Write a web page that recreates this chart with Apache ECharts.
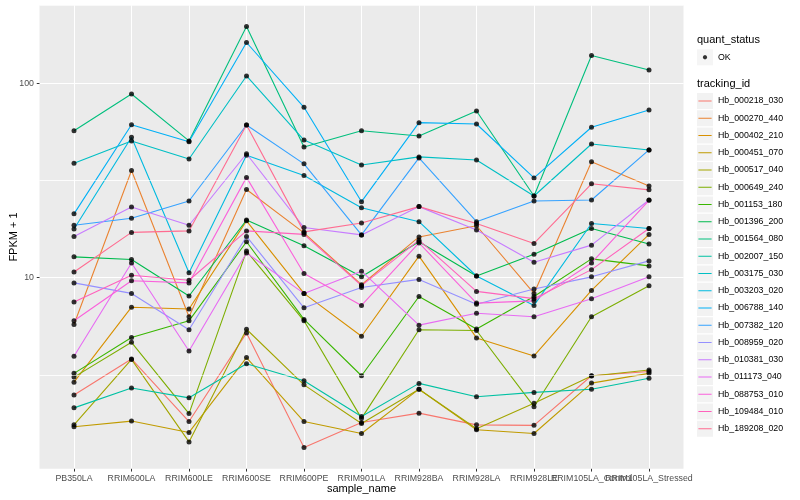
<!DOCTYPE html>
<html><head><meta charset="utf-8">
<script src="https://cdn.jsdelivr.net/npm/echarts@6/dist/echarts.min.js"></script>
<style>html,body{margin:0;padding:0;background:#fff}#c{width:800px;height:500px}</style>
</head><body><div id="c"></div>
<script>
const categories = ['PB350LA','RRIM600LA','RRIM600LE','RRIM600SE','RRIM600PE','RRIM901LA','RRIM928BA','RRIM928LA','RRIM928LE','RRIM105LA_Control','RRIM105LA_Stressed'];
const trackingIds = ['Hb_000218_030','Hb_000270_440','Hb_000402_210','Hb_000451_070','Hb_000517_040','Hb_000649_240','Hb_001153_180','Hb_001396_200','Hb_001564_080','Hb_002007_150','Hb_003175_030','Hb_003203_020','Hb_006788_140','Hb_007382_120','Hb_008959_020','Hb_010381_030','Hb_011173_040','Hb_088753_010','Hb_109484_010','Hb_189208_020'];

// FPKM + 1 values, one array per tracking_id, in category order
const Hb_000218_030 = [2.49, 3.82, 1.82, 5.2, 1.34, 1.8, 2.01, 1.75, 1.74, 3.13, 3.29];
const Hb_000270_440 = [5.74, 35.6, 6.3, 28.4, 17.0, 9.2, 16.2, 18.5, 8.3, 39.5, 29.6];
const Hb_000402_210 = [2.9, 7.05, 6.9, 19.6, 8.3, 5.0, 12.9, 4.9, 3.96, 8.6, 16.7];
const Hb_000451_070 = [1.71, 1.83, 1.6, 3.88, 1.82, 1.58, 2.67, 1.65, 1.58, 2.87, 3.22];
const Hb_000517_040 = [1.75, 3.8, 1.43, 5.43, 2.81, 1.78, 2.67, 1.67, 2.26, 3.12, 3.35];
const Hb_000649_240 = [3.08, 4.65, 2.0, 13.7, 6.0, 1.89, 5.4, 5.35, 2.17, 6.3, 9.1];
const Hb_001153_180 = [3.22, 4.92, 6.0, 15.3, 6.1, 3.13, 8.0, 5.45, 8.0, 12.5, 11.5];
const Hb_001396_200 = [12.8, 12.4, 8.05, 19.8, 14.6, 10.1, 15.3, 10.2, 13.2, 17.9, 14.9];
const Hb_001564_080 = [57, 88, 50.5, 196, 47, 57, 53.5, 72, 26.3, 139, 117];
const Hb_002007_150 = [2.14, 2.71, 2.41, 3.61, 2.95, 1.93, 2.86, 2.44, 2.57, 2.67, 3.04];
const Hb_003175_030 = [38.8, 50.5, 40.8, 109, 51, 38, 41.8, 40.3, 26.3, 48.7, 45.4];
const Hb_003203_020 = [17.8, 52.8, 10.6, 42.6, 33.5, 22.9, 19.4, 10.2, 7.2, 19.0, 17.9];
const Hb_006788_140 = [21.3, 61.2, 50, 162, 75.2, 24.6, 62.7, 61.7, 32.6, 59.4, 72.9];
const Hb_007382_120 = [18.6, 20.2, 24.8, 61, 38.5, 16.6, 41.3, 19.4, 24.8, 25.1, 45.4];
const Hb_008959_020 = [9.4, 8.3, 5.4, 16.3, 7.0, 8.9, 9.8, 7.3, 8.75, 10.1, 12.2];
const Hb_010381_030 = [16.3, 23.1, 18.6, 43.4, 18.1, 16.6, 23.2, 17.6, 12.0, 14.7, 25.1];
const Hb_011173_040 = [3.94, 11.9, 4.2, 13.4, 8.3, 10.8, 5.7, 6.56, 6.3, 7.8, 10.1];
const Hb_088753_010 = [6.0, 9.65, 9.4, 32.8, 10.5, 7.2, 15.1, 7.4, 7.6, 11.9, 25.0];
const Hb_109484_010 = [7.5, 10.3, 9.7, 17.4, 16.7, 9.1, 15.6, 8.5, 7.8, 11.0, 17.9];
const Hb_189208_020 = [10.7, 17.1, 17.4, 61, 17.2, 19.1, 23.2, 19.0, 15.0, 30.4, 28.3];

const seriesValues = [Hb_000218_030, Hb_000270_440, Hb_000402_210, Hb_000451_070, Hb_000517_040, Hb_000649_240, Hb_001153_180, Hb_001396_200, Hb_001564_080, Hb_002007_150, Hb_003175_030, Hb_003203_020, Hb_006788_140, Hb_007382_120, Hb_008959_020, Hb_010381_030, Hb_011173_040, Hb_088753_010, Hb_109484_010, Hb_189208_020];

const yTickValues = [10, 100];
const yMinorBreaks = [3.1623, 31.623];
const yLimits = [1.04, 252];

const palette = ['#F8766D','#EA8331','#D89000','#C09B00','#A3A500','#7CAE00','#39B600','#00BB4E','#00BF7D','#00C1A3','#00BFC4','#00BAE0','#00B0F6','#35A2FF','#9590FF','#C77CFF','#E76BF3','#FA62DB','#FF62BC','#FF6C91'];

const FONT = 'Liberation Sans, Arial, Helvetica, sans-serif';
const linePath = 'path://M0,0h0.01v0.01h-0.01Z M16,16h-0.01v-0.01h0.01Z M1.4,7.4H14.6V8.6H1.4Z';
const dotPath = 'path://M0,0h0.01v0.01h-0.01Z M16,16h-0.01v-0.01h0.01Z M10.2,8L9.55,9.55L8,10.2L6.45,9.55L5.8,8L6.45,6.45L8,5.8L9.55,6.45Z';

const points = [];
seriesValues.forEach(vals => vals.forEach((v, j) => points.push([j, v])));

const lineSeries = trackingIds.map((id, i) => ({
  name: id, type: 'line', xAxisIndex: 0, yAxisIndex: 0,
  data: seriesValues[i], symbol: 'none', showSymbol: false,
  lineStyle: { color: palette[i], width: 1.1 },
  itemStyle: { color: palette[i] },
  emphasis: { disabled: true }, silent: true, z: 2
}));

const chart = echarts.init(document.getElementById('c'), null, { renderer: 'canvas' });
chart.setOption({
  animation: false,
  textStyle: { fontFamily: FONT },
  title: [
    { text: 'quant_status', left: 697, top: 34, padding: 0, textStyle: { fontSize: 11, fontWeight: 'normal', color: '#000', fontFamily: FONT } },
    { text: 'tracking_id', left: 697, top: 78, padding: 0, textStyle: { fontSize: 11, fontWeight: 'normal', color: '#000', fontFamily: FONT } }
  ],
  legend: [
    { orient: 'vertical', left: 697, top: 49.3, padding: 0, itemWidth: 16, itemHeight: 16, itemGap: 1.25, icon: 'rect', data: ['OK'], selectedMode: false, itemStyle: { color: '#F2F2F2', borderWidth: 0 }, textStyle: { color: 'rgba(0,0,0,0)', fontSize: 8.8 }, z: 3 },
    { orient: 'vertical', left: 697, top: 49.3, padding: 0, itemWidth: 16, itemHeight: 16, itemGap: 1.25, data: [{ name: 'OK', icon: dotPath }], selectedMode: false, itemStyle: { color: '#000', borderWidth: 0 }, textStyle: { color: '#000', fontSize: 8.8, fontFamily: FONT }, z: 4 },
    { orient: 'vertical', left: 697, top: 93, padding: 0, itemWidth: 16, itemHeight: 16, itemGap: 1.25, icon: 'rect', data: trackingIds, selectedMode: false, itemStyle: { color: '#F2F2F2', borderWidth: 0 }, textStyle: { color: 'rgba(0,0,0,0)', fontSize: 8.8 }, z: 3 },
    { orient: 'vertical', left: 697, top: 93, padding: 0, itemWidth: 16, itemHeight: 16, itemGap: 1.25, data: trackingIds.map(n => ({ name: n, icon: linePath })), selectedMode: false, itemStyle: { borderWidth: 0 }, textStyle: { color: '#000', fontSize: 8.8, fontFamily: FONT }, z: 4 }
  ],
  grid: [
    { left: 74, right: 151, top: 5.2, bottom: 31.2, containLabel: false, outerBoundsMode: 'none', show: false, z: 0 },
    { left: 39.5, right: 116.5, top: 5.2, bottom: 31.2, containLabel: false, outerBoundsMode: 'none', show: true, backgroundColor: '#EBEBEB', borderWidth: 0, z: 0 }
  ],
  xAxis: [
    { gridIndex: 0, type: 'category', data: categories, boundaryGap: false, z: 1,
      axisLine: { show: false },
      axisTick: { show: true, length: 2.75, alignWithLabel: true, lineStyle: { color: '#333333', width: 1 } },
      axisLabel: { interval: 0, hideOverlap: false, fontSize: 8.8, color: '#4D4D4D', margin: 5, fontFamily: FONT },
      splitLine: { show: true, lineStyle: { color: '#FFFFFF', width: 1.07 } },
      name: 'sample_name', nameLocation: 'middle', nameGap: 14.5, nameMoveOverlap: false,
      nameTextStyle: { fontSize: 11, color: '#000', fontFamily: FONT } },
    { gridIndex: 1, type: 'value', min: 0, max: 1, show: false }
  ],
  yAxis: [
    { gridIndex: 0, type: 'log', logBase: 10, min: yLimits[0], max: yLimits[1], show: false },
    { gridIndex: 1, type: 'log', logBase: 10, min: yLimits[0], max: yLimits[1], z: 1.2,
      axisLine: { show: false },
      axisTick: { show: true, length: 2.75, customValues: yTickValues, lineStyle: { color: '#333333', width: 1 } },
      axisLabel: { customValues: yTickValues, fontSize: 8.8, color: '#4D4D4D', margin: 5.5, fontFamily: FONT },
      splitLine: { show: true, lineStyle: { color: '#FFFFFF', width: 1.07 } },
      minorTick: { show: false }, minorSplitLine: { show: false },
      name: 'FPKM + 1', nameLocation: 'middle', nameGap: 20, nameRotate: 90, nameMoveOverlap: false,
      nameTextStyle: { fontSize: 11, color: '#000', fontFamily: FONT } },
    { gridIndex: 1, type: 'log', logBase: Math.sqrt(10), min: yLimits[0], max: yLimits[1], z: 1,
      position: 'left', offset: 0,
      axisLine: { show: false }, axisTick: { show: false }, axisLabel: { show: false },
      splitLine: { show: true, lineStyle: { color: '#FFFFFF', width: 0.6 } } }
  ],
  series: [
    { type: 'line', name: '_minor', xAxisIndex: 1, yAxisIndex: 1, data: [], silent: true, z: 1,
      markLine: { silent: true, symbol: ['none', 'none'], animation: false, label: { show: false },
        lineStyle: { color: '#FFFFFF', width: 0.6, type: 'solid' },
        emphasis: { disabled: true },
        data: yMinorBreaks.map(v => ({ yAxis: v })) } },
    ...lineSeries,
    { name: 'OK', type: 'scatter', xAxisIndex: 0, yAxisIndex: 0, data: points, symbol: 'circle', symbolSize: 5,
      itemStyle: { color: '#000' }, silent: true, z: 3 }
  ]
});
</script></body></html>
